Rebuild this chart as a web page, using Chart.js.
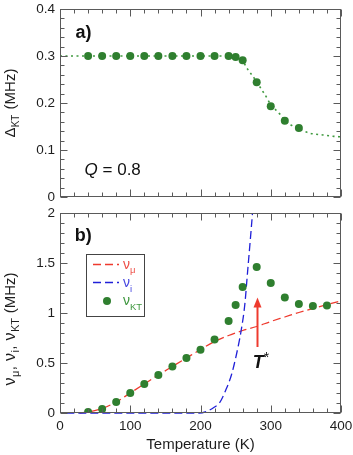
<!DOCTYPE html>
<html><head><meta charset="utf-8">
<script src="https://cdn.jsdelivr.net/npm/chart.js@4/dist/chart.umd.min.js"></script>
<style>
html,body{margin:0;padding:0;background:#fff}
body{width:353px;height:455px;position:relative;overflow:hidden}
canvas{position:absolute;left:0}
#c1{top:0}
#c2{top:205px}
</style></head>
<body>
<canvas id="c1" width="353" height="205"></canvas>
<canvas id="c2" width="353" height="250"></canvas>
<script>
// ---------- DATA ----------
// panel a)
const tempA   = [40,60,80,100,120,140,160,180,200,220,240,250,260,280,300,320,340];
const deltaKT = [0.3,0.3,0.3,0.3,0.3,0.3,0.3,0.3,0.3,0.3,0.3,0.298,0.291,0.244,0.193,0.162,0.147];
const fitT     = [0,240,250,260,267,275,286,292,300,312,320,329,340,355,374,390,400];
const fitDelta = [0.3,0.3,0.298,0.289,0.272,0.256,0.231,0.217,0.197,0.178,0.164,0.153,0.145,0.136,0.132,0.129,0.128];
// panel b)
const tempB = [40,60,80,100,120,140,160,180,200,220,240,250,260,280,300,320,340,360,380];
const nuKT  = [0.01,0.04,0.11,0.2,0.29,0.38,0.465,0.55,0.632,0.735,0.92,1.08,1.26,1.46,1.3,1.155,1.09,1.07,1.075];
const muT   = [28,40,60,80,100,120,140,160,180,200,220,240,260,280,300,320,340,360,380,400];
const nuMu  = [0,0.01,0.045,0.11,0.2,0.29,0.38,0.465,0.55,0.635,0.715,0.775,0.825,0.865,0.915,0.96,1.005,1.045,1.085,1.12];
const iT    = [9,198,210,220,227,236,244,251,258,263,267,271,274,276];
const nuI   = [0,0,0.02,0.06,0.1,0.23,0.38,0.58,0.83,1.08,1.41,1.74,2.0,2.2];
// tick labels
const yTicksA = [0,0.1,0.2,0.3,0.4];
const yTicksB = [0,0.5,1,1.5,2];
const xTicks  = [0,100,200,300,400];
// annotations
const arrowT = 280, arrowFrom = 0.66, arrowTo = 1.155;
const tStarLabel = {t: 274.5, v: 0.45};
const qLabel = {t: 35, v: 0.047, text: '0.8'};

// ---------- STYLE ----------
const FONT = "'Liberation Sans', Arial, Helvetica, sans-serif";
const GREEN = '#2f7f2f', RED = '#ee3a2e', BLUE = '#2020d8';
const FRAME = '#5a5a5a';

const pts = (xs, ys) => xs.map((x,i)=>({x, y: ys[i]}));
const fmt = v => String(+v.toFixed(3));
function noPad(s){ s.paddingTop = 0; s.paddingBottom = 0; s.paddingLeft = 0; s.paddingRight = 0; }

function frameTicks(minorX, majorX, minorY, majorY) {
  return {
    id: 'frameTicks',
    afterDatasetsDraw(chart) {
      const {ctx, chartArea: a, scales: {x, y}} = chart;
      const L = Math.round(a.left)+0.5, R = Math.round(a.right)-0.5;
      const T = Math.round(a.top)+0.5, B = Math.round(a.bottom)-0.5;
      ctx.save();
      ctx.strokeStyle = FRAME; ctx.lineWidth = 1;
      ctx.strokeRect(L, T, R-L, B-T);
      ctx.beginPath();
      const nx = Math.round((x.max-x.min)/minorX);
      for (let i=0;i<=nx;i++){
        const v = x.min + i*minorX;
        const p = Math.round(x.getPixelForValue(v))+0.5;
        const major = Math.abs(v/majorX - Math.round(v/majorX)) < 1e-6;
        const len = major ? 7 : 4;
        ctx.moveTo(p, B); ctx.lineTo(p, B-len);
        ctx.moveTo(p, T); ctx.lineTo(p, T+len);
      }
      const ny = Math.round((y.max-y.min)/minorY);
      for (let i=0;i<=ny;i++){
        const v = y.min + i*minorY;
        const p = Math.round(y.getPixelForValue(v))+0.5;
        const major = Math.abs(v/majorY - Math.round(v/majorY)) < 1e-6;
        const len = major ? 7 : 4;
        ctx.moveTo(L, p); ctx.lineTo(L+len, p);
        ctx.moveTo(R, p); ctx.lineTo(R-len, p);
      }
      ctx.stroke();
      ctx.restore();
    }
  };
}

function drawRotated(ctx, pieces, bx, cy, color) {
  ctx.save();
  ctx.fillStyle = color;
  ctx.textBaseline = 'alphabetic';
  let total = 0;
  for (const p of pieces) { ctx.font = (p.style||'') + ' ' + p.size + 'px ' + FONT; total += ctx.measureText(p.t).width + (p.gap||0); }
  ctx.translate(bx, cy);
  ctx.rotate(-Math.PI/2);
  let x = -total/2;
  for (const p of pieces) {
    ctx.font = (p.style||'') + ' ' + p.size + 'px ' + FONT;
    ctx.fillText(p.t, x, p.dy||0);
    x += ctx.measureText(p.t).width + (p.gap||0);
  }
  ctx.restore();
}
function drawRich(ctx, pieces, x, y, color) {
  ctx.save();
  ctx.fillStyle = color;
  ctx.textBaseline = 'alphabetic';
  for (const p of pieces) {
    ctx.font = (p.style||'') + ' ' + p.size + 'px ' + FONT;
    ctx.fillText(p.t, x, y + (p.dy||0));
    x += ctx.measureText(p.t).width + (p.gap||0);
  }
  ctx.restore();
}

const tickFont = {family: FONT, size: 13.5};
const TXT = '#1e1e1e';

// ---------- CHART A ----------
const annA = {
  id: 'annA',
  afterDraw(chart) {
    const {ctx, scales: {x, y}} = chart;
    drawRotated(ctx, [
      {t:'\u0394', size:15},
      {t:'KT', size:10, dy:4, gap:1},
      {t:' (MHz)', size:15}
    ], 15, 103, TXT);
    ctx.save();
    ctx.fillStyle = '#111';
    ctx.font = 'bold 18px ' + FONT;
    ctx.fillText('a)', x.getPixelForValue(22), y.getPixelForValue(0.338));
    ctx.restore();
    drawRich(ctx, [
      {t:'Q', size:17, style:'italic'},
      {t:' = ' + qLabel.text, size:17}
    ], x.getPixelForValue(qLabel.t), y.getPixelForValue(qLabel.v), '#111');
  }
};

new Chart(document.getElementById('c1'), {
  type: 'scatter',
  data: { datasets: [
    { data: pts(tempA, deltaKT), showLine:false, pointRadius:4, pointHoverRadius:4,
      backgroundColor: GREEN, borderWidth:0, pointBorderWidth:0, order:0 },
    { data: pts(fitT, fitDelta), showLine:true, pointRadius:0, borderColor:'#3f9a3f',
      borderWidth:1.6, borderDash:[2,3.5], cubicInterpolationMode:'monotone', order:1 }
  ]},
  options: {
    responsive:false, animation:false, events:[],
    layout:{padding:{top:9,right:12,bottom:8,left:0}},
    plugins:{legend:{display:false}, tooltip:{enabled:false}},
    scales:{
      x:{type:'linear', min:0, max:400, display:false},
      y:{type:'linear', min:0, max:0.4,
        afterBuildTicks(s){ s.ticks = yTicksA.map(v=>({value:v})); },
        afterFit(s){ s.width = 60; noPad(s); },
        ticks:{font:tickFont, color:TXT, padding:5, callback: fmt},
        grid:{display:false, drawTicks:false}, border:{display:false}}
    }
  },
  plugins:[frameTicks(20,100,0.02,0.1), annA]
});

// ---------- CHART B ----------
const annB = {
  id: 'annB',
  afterDraw(chart) {
    const {ctx, scales: {x, y}} = chart;
    drawRotated(ctx, [
      {t:'\u03bd', size:16, gap:0.5},
      {t:'\u03bc', size:11, dy:4, gap:0.5},
      {t:',', size:15, gap:5},
      {t:'\u03bd', size:16, gap:0.5},
      {t:'i', size:11, dy:4, gap:0.5},
      {t:',', size:15, gap:5},
      {t:'\u03bd', size:16, gap:0.5},
      {t:'KT', size:11, dy:4, gap:0.5},
      {t:' (MHz)', size:15}
    ], 15, 124, TXT);
    ctx.save();
    ctx.fillStyle = '#111';
    ctx.font = 'bold 18px ' + FONT;
    ctx.fillText('b)', x.getPixelForValue(21), y.getPixelForValue(1.724));
    // arrow
    const ax = Math.round(x.getPixelForValue(arrowT))+0.5;
    const y0 = y.getPixelForValue(arrowFrom), y1 = y.getPixelForValue(arrowTo);
    ctx.strokeStyle = RED; ctx.fillStyle = RED; ctx.lineWidth = 2;
    ctx.beginPath(); ctx.moveTo(ax, y0); ctx.lineTo(ax, y1+8); ctx.stroke();
    ctx.beginPath(); ctx.moveTo(ax, y1); ctx.lineTo(ax-4, y1+10); ctx.lineTo(ax+4, y1+10); ctx.closePath(); ctx.fill();
    ctx.restore();
    drawRich(ctx, [
      {t:'T', size:18, style:'italic bold', gap:0},
      {t:'*', size:14, dy:-6}
    ], x.getPixelForValue(tStarLabel.t), y.getPixelForValue(tStarLabel.v), '#111');
    // legend box
    ctx.save();
    ctx.strokeStyle = '#444'; ctx.lineWidth = 1;
    ctx.strokeRect(86.5, 49.5, 58, 62);
    ctx.lineWidth = 1.3;
    ctx.setLineDash([8,4]);
    ctx.strokeStyle = RED;
    ctx.beginPath(); ctx.moveTo(93, 59.5); ctx.lineTo(119, 59.5); ctx.stroke();
    ctx.strokeStyle = BLUE;
    ctx.beginPath(); ctx.moveTo(93, 77.5); ctx.lineTo(119, 77.5); ctx.stroke();
    ctx.setLineDash([]);
    ctx.fillStyle = GREEN;
    ctx.beginPath(); ctx.arc(107, 96, 4, 0, Math.PI*2); ctx.fill();
    ctx.restore();
    drawRich(ctx, [{t:'\u03bd', size:14, gap:0}, {t:'\u03bc', size:9.5, dy:4}], 123, 64, '#ee5048');
    drawRich(ctx, [{t:'\u03bd', size:14, gap:0}, {t:'i', size:9.5, dy:5}], 123, 82, '#4848e0');
    drawRich(ctx, [{t:'\u03bd', size:14, gap:0}, {t:'KT', size:9.5, dy:5}], 123, 100, '#3f973f');
  }
};

new Chart(document.getElementById('c2'), {
  type: 'scatter',
  data: { datasets: [
    { data: pts(tempB, nuKT), showLine:false, pointRadius:4, pointHoverRadius:4,
      backgroundColor: GREEN, borderWidth:0, pointBorderWidth:0, order:0 },
    { data: pts(iT, nuI), showLine:true, pointRadius:0, borderColor:BLUE, borderWidth:1.3,
      borderDash:[8,4], cubicInterpolationMode:'monotone', order:1,
      clip:{left:0, top:0, right:0, bottom:4} },
    { data: pts(muT, nuMu), showLine:true, pointRadius:0, borderColor:RED, borderWidth:1.3,
      borderDash:[8,4], cubicInterpolationMode:'monotone', order:2,
      clip:{left:0, top:0, right:0, bottom:4} }
  ]},
  options: {
    responsive:false, animation:false, events:[],
    layout:{padding:{top:8,right:12,bottom:0,left:0}},
    plugins:{legend:{display:false}, tooltip:{enabled:false}},
    scales:{
      x:{type:'linear', min:0, max:400,
        afterBuildTicks(s){ s.ticks = xTicks.map(v=>({value:v})); },
        afterFit(s){ s.height = 42; noPad(s); },
        ticks:{font:tickFont, color:TXT, padding:5, maxRotation:0, callback: fmt},
        grid:{display:false, drawTicks:false}, border:{display:false},
        title:{display:true, text:'Temperature (K)', color:TXT,
          font:{family:FONT, size:15}, padding:{top:0, bottom:1}}},
      y:{type:'linear', min:0, max:2,
        afterBuildTicks(s){ s.ticks = yTicksB.map(v=>({value:v})); },
        afterFit(s){ s.width = 60; noPad(s); },
        ticks:{font:tickFont, color:TXT, padding:5, callback: fmt},
        grid:{display:false, drawTicks:false}, border:{display:false}}
    }
  },
  plugins:[frameTicks(20,100,0.1,0.5), annB]
});
</script>
</body></html>
